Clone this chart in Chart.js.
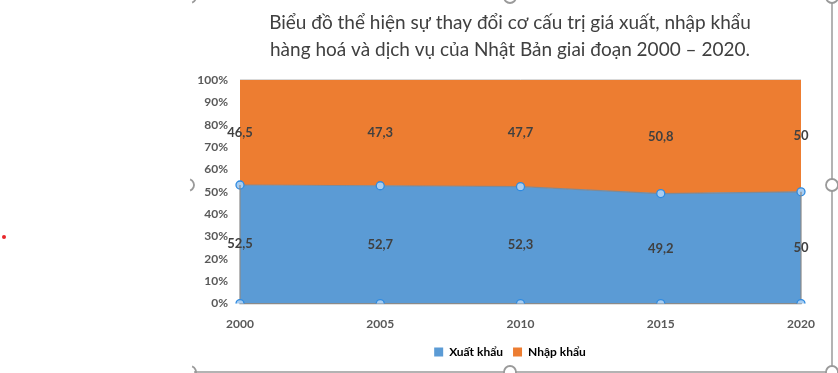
<!DOCTYPE html>
<html>
<head>
<meta charset="utf-8">
<script src="https://cdn.jsdelivr.net/npm/chart.js@4/dist/chart.umd.min.js"></script>
<style>
html,body{margin:0;padding:0;background:#fff;}
#wrap{width:838px;height:373px;position:relative;}
</style>
</head>
<body>
<div id="wrap"><canvas id="c" width="838" height="373"></canvas></div>
<script>
const years = ['2000', '2005', '2010', '2015', '2020'];
const xuatKhau = [52.5, 52.7, 52.3, 49.2, 50];
const nhapKhau = [46.5, 47.3, 47.7, 50.8, 50];
const seriesNames = ['Xuất khẩu', 'Nhập khẩu'];
const titleLines = ['Biểu đồ thể hiện sự thay đổi cơ cấu trị giá xuất, nhập khẩu', 'hàng hoá và dịch vụ của Nhật Bản giai đoạn 2000 – 2020.'];

const totals = xuatKhau.map((v, i) => v + nhapKhau[i]);
const pctX = xuatKhau.map((v, i) => v / totals[i] * 100);
const pctN = nhapKhau.map((v, i) => v / totals[i] * 100);
const zeros = years.map(() => 0);

const FONT = 'Lato';
const fmt = v => String(v).replace('.', ',');

const markerStyle = {
  pointRadius: 4, pointHoverRadius: 4,
  pointBackgroundColor: '#a8cdf1', pointBorderColor: '#2e8ae0', pointBorderWidth: 1.3
};

const labelPlugin = {
  id: 'valueLabels',
  afterDatasetsDraw(chart) {
    const ctx = chart.ctx, y = chart.scales.y;
    const mB = chart.getDatasetMeta(1);
    ctx.save();
    ctx.font = 'bold 13px ' + FONT;
    ctx.fillStyle = '#404040';
    ctx.textAlign = 'center';
    ctx.textBaseline = 'middle';
    years.forEach((_, i) => {
      const x = mB.data[i].x;
      const yb = (y.getPixelForValue(pctX[i]) + y.getPixelForValue(0)) / 2;
      const yo = (y.getPixelForValue(pctX[i]) + y.getPixelForValue(100)) / 2;
      ctx.fillText(fmt(xuatKhau[i]), x, yb);
      ctx.fillText(fmt(nhapKhau[i]), x, yo);
    });
    ctx.restore();
  }
};

const edgePlugin = {
  id: 'areaEdges',
  beforeDatasetDraw(chart, args) {
    if (args.index !== 0) return;
    const ctx = chart.ctx, y = chart.scales.y;
    const mB = chart.getDatasetMeta(1);
    const n = years.length - 1;
    ctx.save();
    ctx.strokeStyle = '#8a8a8a';
    ctx.lineWidth = 1.2;
    ctx.beginPath();
    ctx.moveTo(mB.data[0].x, mB.data[0].y);
    ctx.lineTo(mB.data[0].x, y.getPixelForValue(0));
    ctx.lineTo(mB.data[n].x, y.getPixelForValue(0));
    ctx.lineTo(mB.data[n].x, mB.data[n].y);
    ctx.stroke();
    ctx.restore();
  }
};

const framePlugin = {
  id: 'frame',
  afterDraw(chart) {
    const ctx = chart.ctx;
    ctx.save();
    ctx.strokeStyle = '#9a9a9a';
    ctx.lineWidth = 1.5;
    ctx.beginPath();
    ctx.moveTo(832, -2); ctx.lineTo(832, 372); ctx.lineTo(194, 372);
    ctx.stroke();
    ctx.lineWidth = 1.8;
    const handles = [[832, 185], [832, 372], [510, 372], [510, -3], [832, -3]];
    handles.forEach(([hx, hy]) => {
      ctx.beginPath(); ctx.arc(hx, hy, 6, 0, Math.PI * 2);
      ctx.fillStyle = '#fff'; ctx.fill(); ctx.stroke();
    });
    [[188, 185], [190, -3], [190, 372]].forEach(([hx, hy]) => {
      ctx.beginPath(); ctx.arc(hx, hy, 6, -Math.PI / 2.6, Math.PI / 2.6); ctx.stroke();
    });
    ctx.fillStyle = '#e8262a';
    ctx.beginPath(); ctx.arc(4, 237, 2, 0, Math.PI * 2); ctx.fill();
    ctx.restore();
  }
};

new Chart(document.getElementById('c'), {
  type: 'line',
  data: {
    labels: years,
    datasets: [
      Object.assign({ label: 'base', data: zeros, stack: 'm', fill: false, showLine: false, borderWidth: 0 }, markerStyle),
      Object.assign({ label: seriesNames[0], data: pctX, stack: 'a', fill: 'origin', backgroundColor: '#5b9bd5', borderColor: '#7f8a96', borderWidth: 1.2, tension: 0 }, markerStyle),
      { label: seriesNames[1], data: pctN, stack: 'a', fill: '-1', backgroundColor: '#ed7d31', borderColor: 'rgba(0,0,0,0)', borderWidth: 0, pointRadius: 0, pointHoverRadius: 0 }
    ]
  },
  options: {
    responsive: false,
    animation: false,
    layout: { padding: { left: 190, right: 8, top: 0, bottom: 5 } },
    plugins: {
      tooltip: { enabled: false },
      title: {
        display: true, text: titleLines, color: '#404040',
        font: { family: FONT, size: 19, weight: 'normal', lineHeight: 1.42 },
        padding: { top: 9, bottom: 17 }
      },
      legend: {
        position: 'bottom',
        labels: {
          filter: it => it.datasetIndex !== 0,
          boxWidth: 9, boxHeight: 9, padding: 10, color: '#595959',
          font: { family: FONT, size: 12, weight: 'bold' },
          generateLabels(chart) {
            return chart.data.datasets.map((d, i) => ({ text: d.label, fillStyle: d.backgroundColor, strokeStyle: d.backgroundColor, lineWidth: 0, datasetIndex: i, hidden: false }));
          }
        }
      }
    },
    scales: {
      x: {
        offset: false,
        grid: { display: false },
        border: { display: true, color: '#8a8a8a', width: 1 },
        ticks: { color: '#595959', font: { family: FONT, size: 12, weight: 'bold' }, padding: 5, maxRotation: 0 }
      },
      y: {
        stacked: true, min: 0, max: 100,
        afterFit: s => { s.width = 50; },
        grid: { color: '#d9d9d9', drawTicks: false },
        border: { display: false },
        ticks: { stepSize: 10, color: '#595959', padding: 12, font: { family: FONT, size: 12, weight: 'bold' }, callback: v => v + '%' }
      },
      yRight: {
        type: 'linear', position: 'right', display: true,
        afterFit: s => { s.width = 29; },
        grid: { display: false, drawOnChartArea: false },
        border: { display: false },
        ticks: { display: false }
      }
    }
  },
  plugins: [labelPlugin, edgePlugin, framePlugin]
});
</script>
</body>
</html>
